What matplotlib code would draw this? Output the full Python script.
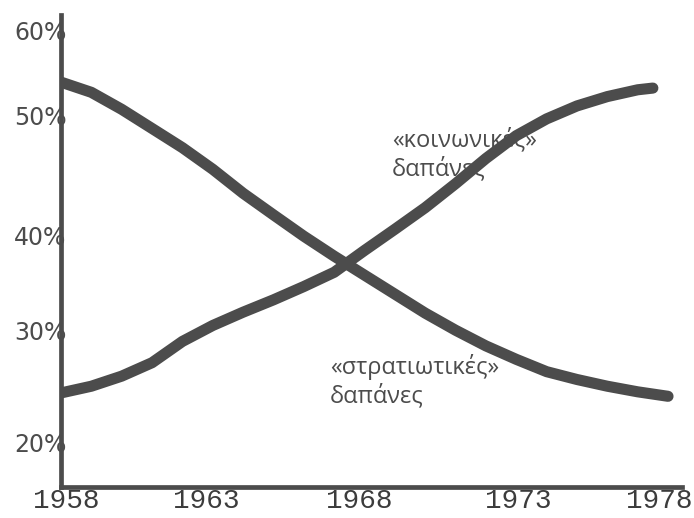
import numpy as np
import matplotlib
matplotlib.use("Agg")
import matplotlib.pyplot as plt
from matplotlib.transforms import ScaledTranslation

# data (percent of spending)
years = [1958, 1959, 1960, 1961, 1962, 1963, 1964, 1965, 1966, 1967, 1968,
         1969, 1970, 1971, 1972, 1973, 1974, 1975, 1976, 1977, 1978]
military = [53.9, 52.7, 50.7, 48.9, 47.3, 45.5, 43.5, 41.7, 39.9, 37.8, 35.8,
            33.8, 31.8, 30.0, 28.6, 27.4, 26.3, 25.6, 25.0, 24.5, 24.1]
social_years = [1958, 1959, 1960, 1961, 1962, 1963, 1964, 1965, 1966, 1967, 1968,
                1969, 1970, 1971, 1972, 1973, 1974, 1975, 1976, 1977, 1977.5]
social = [24.4, 25.0, 25.9, 27.1, 29.0, 30.5, 31.9, 33.2, 34.6, 36.1, 38.4,
          40.5, 42.3, 44.3, 46.4, 48.3, 49.7, 51.1, 52.2, 53.0, 53.2]

x_ticks = [1958, 1963, 1968, 1973, 1978]
y_ticks = [20, 30, 40, 50, 60]
y_tick_labels = ["20%", "30%", "40%", "50%", "60%"]

label_social = "«κοινωνικές»\nδαπάνες"
label_military = "«στρατιωτικές»\nδαπάνες"

# the hand-drawn y axis is unevenly spaced: anchor each label where it was drawn
y_anchor_pct = [10, 20, 30, 40, 50, 60, 70]
y_anchor_pos = [-554, -442, -330, -235, -115, -30, 55]


def forward(v):
    return np.interp(v, y_anchor_pct, y_anchor_pos)


def inverse(p):
    return np.interp(p, y_anchor_pos, y_anchor_pct)


ink = "#4c4c4c"

fig = plt.figure(figsize=(6.94, 5.18), dpi=100)
ax = fig.add_axes([61 / 694, 31 / 518, 621 / 694, 472 / 518])

ax.set_yscale("function", functions=(forward, inverse))
ax.set_ylim(16.0, 61.8)
ax.set_xlim(1958, 1978.46)

ax.plot(years, military, color=ink, lw=8, solid_capstyle="round",
        solid_joinstyle="round", zorder=3)
ax.plot(social_years, social, color=ink, lw=8, solid_capstyle="round",
        solid_joinstyle="round", zorder=3)

for side in ["top", "right"]:
    ax.spines[side].set_visible(False)
for side in ["left", "bottom"]:
    ax.spines[side].set_color(ink)
    ax.spines[side].set_linewidth(3.4)

ax.set_yticks(y_ticks)
ax.set_yticklabels(y_tick_labels)
ax.yaxis.set_minor_locator(matplotlib.ticker.NullLocator())
ax.tick_params(axis="y", length=0, pad=-4, labelsize=17, labelcolor=ink)
for t in ax.get_yticklabels():
    t.set_fontfamily("DejaVu Sans")

ax.set_xticks(x_ticks)
ax.set_xticklabels([str(y) for y in x_ticks])
ax.tick_params(axis="x", length=0, pad=1, labelsize=20, labelcolor="#3c3c3c")
# nudge the hand-lettered year labels to where they were written
x_nudge = [5, -7, -5, 2, -9]
for t, dx in zip(ax.get_xticklabels(), x_nudge):
    t.set_fontfamily("Liberation Mono")
    t.set_transform(t.get_transform() + ScaledTranslation(dx / 100, 0, fig.dpi_scale_trans))

ax.text(392 / 694, 1 - 128 / 518, label_social, fontsize=17,
        family="Open Sans", color=ink, va="top", linespacing=1.2, zorder=1,
        transform=fig.transFigure)
ax.text(330 / 694, 1 - 354 / 518, label_military, fontsize=17,
        family="Open Sans", color=ink, va="top", linespacing=1.2, zorder=1,
        transform=fig.transFigure)

fig.savefig("out.png", dpi=100)
